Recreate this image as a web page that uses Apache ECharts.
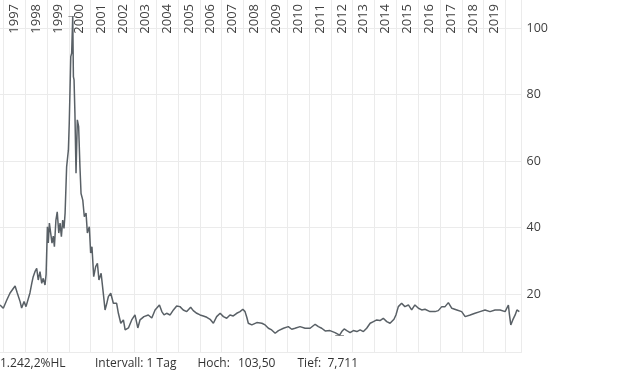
<!DOCTYPE html>
<html>
<head>
<meta charset="utf-8">
<script src="https://cdn.jsdelivr.net/npm/echarts@6/dist/echarts.min.js"></script>
<style>
html,body{margin:0;padding:0;background:#fff;}
#chart{width:620px;height:372px;}
</style>
</head>
<body>
<div id="chart"></div>
<script>
// decimal-year dates and closing values
const dates = [
1996.85,1997.00,1997.16,1997.31,1997.54,1997.64,1997.77,1997.84,1997.95,1998.04,
1998.22,1998.31,1998.37,1998.45,1998.53,1998.60,1998.68,1998.76,1998.83,1998.91,
1998.96,1999.02,1999.06,1999.11,1999.17,1999.23,1999.29,1999.34,1999.41,1999.47,
1999.54,1999.60,1999.66,1999.72,1999.78,1999.83,1999.90,
1999.98,2000.02,2000.09,2000.13,2000.18,2000.21,2000.24,2000.28,2000.33,2000.39,
2000.45,2000.51,2000.56,2000.64,2000.71,2000.79,2000.85,2000.94,2001.00,2001.06,
2001.14,2001.23,2001.31,2001.38,2001.48,2001.58,2001.66,2001.74,2001.81,2001.92,
2002.04,2002.19,2002.27,2002.38,2002.50,2002.58,2002.73,2002.88,2003.03,2003.16,
2003.26,2003.44,2003.64,2003.80,2003.95,2004.15,2004.26,2004.36,2004.48,2004.64,
2004.79,2004.94,2005.09,2005.24,2005.40,2005.58,2005.70,2005.86,2006.01,2006.16,
2006.32,2006.47,2006.62,2006.77,2006.93,2007.08,2007.23,2007.38,2007.53,2007.69,
2007.84,2007.97,2008.07,2008.15,2008.22,2008.38,2008.61,2008.84,2008.99,2009.14,
2009.29,2009.45,2009.60,2009.83,2010.05,2010.21,2010.36,2010.59,2010.82,2011.05,
2011.28,2011.43,2011.58,2011.74,2011.96,2012.19,2012.40,2012.50,2012.61,2012.73,
2012.88,2013.03,2013.19,2013.34,2013.49,2013.64,2013.80,2013.95,2014.10,2014.25,
2014.40,2014.56,2014.71,2014.79,2014.89,2014.98,2015.09,2015.24,2015.39,2015.55,
2015.70,2015.85,2016.01,2016.16,2016.31,2016.54,2016.77,2016.92,2017.08,2017.23,
2017.38,2017.54,2017.77,2017.99,2018.15,2018.38,2018.60,2018.83,2019.06,2019.29,
2019.52,2019.75,2019.98,2020.13,2020.17,2020.24,2020.33,2020.44,2020.52,2020.63
];
const values = [
16.8,15.8,18.3,20.4,22.5,20.4,17.8,15.9,17.8,16.3,
20.4,23.5,25.3,26.8,27.8,24.3,26.8,23.3,24.8,22.8,
26.0,40.3,35.4,41.4,38.4,35.4,37.5,34.3,42.3,44.8,
38.4,41.4,37.3,42.3,39.8,44.4,58.3,
63.3,71.4,91.4,92.4,103.5,85.4,84.4,74.4,56.4,72.4,
70.4,58.3,50.3,48.3,43.3,44.4,38.4,40.3,32.4,34.3,
25.3,28.3,29.3,24.3,26.3,20.3,15.3,17.3,19.3,20.3,
17.3,17.3,14.3,11.3,12.3,9.3,9.9,12.3,13.8,9.9,
12.3,13.3,13.8,12.9,15.3,16.8,14.8,13.8,14.3,13.8,
15.3,16.5,16.3,15.3,14.8,16.1,15.1,14.3,13.8,13.5,
13.1,12.5,11.3,13.3,14.3,13.3,12.8,13.8,13.5,14.3,
14.8,15.5,14.8,13.1,11.3,10.8,11.5,11.3,10.8,9.8,
9.3,8.3,9.1,9.8,10.3,9.5,9.8,10.3,9.8,9.8,
11.0,10.3,9.8,9.0,9.1,8.5,7.711,8.8,9.6,9.1,
8.5,9.1,8.8,9.3,8.8,9.8,11.3,11.8,12.3,12.1,
12.8,11.8,11.3,10.8,12.5,13.8,16.3,17.3,16.3,16.8,
15.3,16.8,15.8,15.3,15.5,14.8,14.8,15.1,16.3,16.3,
17.5,15.8,15.3,14.8,13.3,13.8,14.3,14.8,15.3,14.8,
15.3,15.3,14.8,16.8,14.3,10.8,12.3,13.8,15.3,14.8
];
// one category band per calendar year; labels sit mid-year
const yearCategories = ['1996','1997','1998','1999','2000','2001','2002','2003','2004','2005','2006','2007','2008','2009','2010','2011','2012','2013','2014','2015','2016','2017','2018','2019','2020'];
const yearLabels = ['1997','1998','1999','2000','2001','2002','2003','2004','2005','2006','2007','2008','2009','2010','2011','2012','2013','2014','2015','2016','2017','2018','2019'];
const yTickLabels = [20, 40, 60, 80, 100];
const footerTexts = ['1.242,2%HL', 'Intervall: 1 Tag', 'Hoch:', '103,50', 'Tief:', '7,711'];

const seriesData = dates.map((d, i) => [d, values[i]]);
let hiI = 0, loI = 0;
values.forEach((v, i) => { if (v > values[hiI]) hiI = i; if (v < values[loI]) loI = i; });
const half = 0.2;

const GRID = '#ebebeb';
const TXT = '#404040';
const FONT = '"Open Sans", sans-serif';
const YEAR_PX = 21.84;

const chart = echarts.init(document.getElementById('chart'), null, {renderer: 'canvas'});
chart.setOption({
  animation: false,
  grid: [
    {left: -18.54, right: 98.5, top: 0, height: 352, containLabel: false, outerBoundsMode: 'none'},
    {left: 0, right: 98.5, top: 28, height: 332.9, containLabel: false, outerBoundsMode: 'none'},
    {left: -18.54, width: YEAR_PX * yearCategories.length, top: 0, height: 352, containLabel: false, outerBoundsMode: 'none'}
  ],
  xAxis: [
    {
      gridIndex: 0, type: 'value', position: 'top', min: 1996, max: 2020.73, interval: 1,
      axisLine: {show: false}, axisTick: {show: false}, axisLabel: {show: false},
      splitLine: {show: true, lineStyle: {color: GRID, width: 1}}
    },
    {
      gridIndex: 0, type: 'value', position: 'bottom', min: 1996, max: 2020.73,
      axisLine: {show: true, lineStyle: {color: GRID, width: 1}},
      axisTick: {show: false}, axisLabel: {show: false}, splitLine: {show: false}
    },
    {gridIndex: 1, type: 'value', min: 0, max: 1, show: false},
    {
      gridIndex: 2, type: 'category', position: 'top', data: yearCategories, boundaryGap: true,
      axisLine: {show: false}, axisTick: {show: false}, splitLine: {show: false},
      axisLabel: {
        inside: true, rotate: 90, margin: 4, interval: 0, fontSize: 13, fontFamily: FONT, color: TXT,
        align: 'right', verticalAlign: 'middle',
        formatter: v => yearLabels.indexOf(v) >= 0 ? v : ''
      }
    }
  ],
  yAxis: [
    {
      gridIndex: 0, type: 'value', position: 'right', min: 2.67, max: 108.41,
      axisLine: {show: true, lineStyle: {color: GRID, width: 1}},
      axisTick: {show: false}, axisLabel: {show: false}, splitLine: {show: false}
    },
    {
      gridIndex: 1, type: 'value', position: 'right', min: 0, max: 100, interval: 20,
      axisLine: {show: false}, axisTick: {show: false},
      splitLine: {show: true, showMinLine: false, lineStyle: {color: GRID, width: 1}},
      axisLabel: {
        margin: 5, fontSize: 12.5, fontFamily: FONT, color: TXT,
        formatter: v => yTickLabels.indexOf(v) >= 0 ? String(v) : ''
      }
    },
    {gridIndex: 2, type: 'value', min: 0, max: 1, show: false}
  ],
  series: [{
    type: 'line', xAxisIndex: 0, yAxisIndex: 0, data: seriesData,
    showSymbol: false, symbol: 'none',
    lineStyle: {color: '#596066', width: 1.5},
    z: 5,
    markLine: {
      silent: true, symbol: ['none', 'none'], label: {show: false},
      lineStyle: {color: '#999999', width: 1, type: 'solid'},
      data: [
        [{coord: [dates[hiI] - half, values[hiI]]}, {coord: [dates[hiI] + half, values[hiI]]}],
        [{coord: [dates[loI] - half, values[loI]]}, {coord: [dates[loI] + half, values[loI]]}]
      ]
    }
  }],
  graphic: [
    {type: 'text', x: 0, y: 358, style: {text: footerTexts[0], font: '12px "Open Sans"', fill: '#333'}},
    {type: 'text', x: 95, y: 358, style: {text: footerTexts[1], font: '12px "Open Sans"', fill: '#333'}},
    {type: 'text', x: 197.5, y: 358, style: {text: footerTexts[2], font: '12px "Open Sans"', fill: '#333'}},
    {type: 'text', x: 238, y: 358, style: {text: footerTexts[3], font: '12px "Open Sans"', fill: '#333'}},
    {type: 'text', x: 297.5, y: 358, style: {text: footerTexts[4], font: '12px "Open Sans"', fill: '#333'}},
    {type: 'text', x: 327.5, y: 358, style: {text: footerTexts[5], font: '12px "Open Sans"', fill: '#333'}}
  ]
});
</script>
</body>
</html>
